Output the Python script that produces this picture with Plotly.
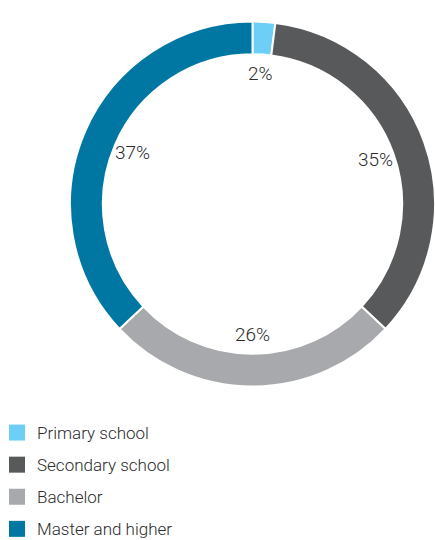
import math
import plotly.graph_objects as go

categories = ["Primary school", "Secondary school", "Bachelor", "Master and higher"]
values = [2, 35, 26, 37]
colors = ["#6DCFF6", "#58595B", "#A7A9AC", "#0077A3"]

W, H = 435, 540
FONT = "Roboto"
TXT = "#2b2b2b"

# pie geometry (pixels)
x0 = 70
cx = (x0 + W) / 2
r = (W - x0) / 2
cy = 204

fig = go.Figure()
fig.add_trace(go.Pie(
    labels=categories, values=values, sort=False, direction="clockwise",
    rotation=0, hole=0.82,
    marker=dict(colors=colors, line=dict(color="white", width=2)),
    textinfo="none", hoverinfo="label+percent", showlegend=False,
    domain=dict(x=[x0 / W, 1.0], y=[1 - (cy + r) / H, 1 - (cy - r) / H]),
))

# legend entries
for i, (c, col) in enumerate(zip(categories, colors)):
    fig.add_trace(go.Scatter(
        x=[None], y=[None], mode="markers", name=c,
        marker=dict(symbol="square", size=16, color=col),
        legendgroup=f"g{i}", showlegend=True,
    ))

# percentage labels just inside the ring
total = sum(values)
cum = 0
rl = r * 0.715
for v in values:
    mid = (cum + v / 2) / total * 2 * math.pi
    cum += v
    px = cx + rl * math.sin(mid)
    py = cy - rl * math.cos(mid)
    fig.add_annotation(
        x=px / W, y=1 - py / H, xref="paper", yref="paper",
        xanchor="center", yanchor="middle",
        text=f"{round(v / total * 100)}%", showarrow=False,
        font=dict(family=FONT, size=19, color=TXT, weight=300),
    )

fig.update_layout(
    width=W, height=H,
    margin=dict(l=0, r=0, t=0, b=0, autoexpand=False),
    paper_bgcolor="white", plot_bgcolor="white",
    xaxis=dict(visible=False), yaxis=dict(visible=False),
    font=dict(family=FONT, size=17, color=TXT, weight=300),
    legend=dict(
        x=-3 / W, y=-7 / H, xanchor="left", yanchor="bottom",
        tracegroupgap=7, font=dict(family=FONT, size=17, color=TXT, weight=300),
        bgcolor="rgba(0,0,0,0)",
    ),
)

fig.write_html(
    "out.html",
    config={"displayModeBar": False},
    post_script="document.body.style.margin='0';document.body.style.overflow='hidden';",
)
